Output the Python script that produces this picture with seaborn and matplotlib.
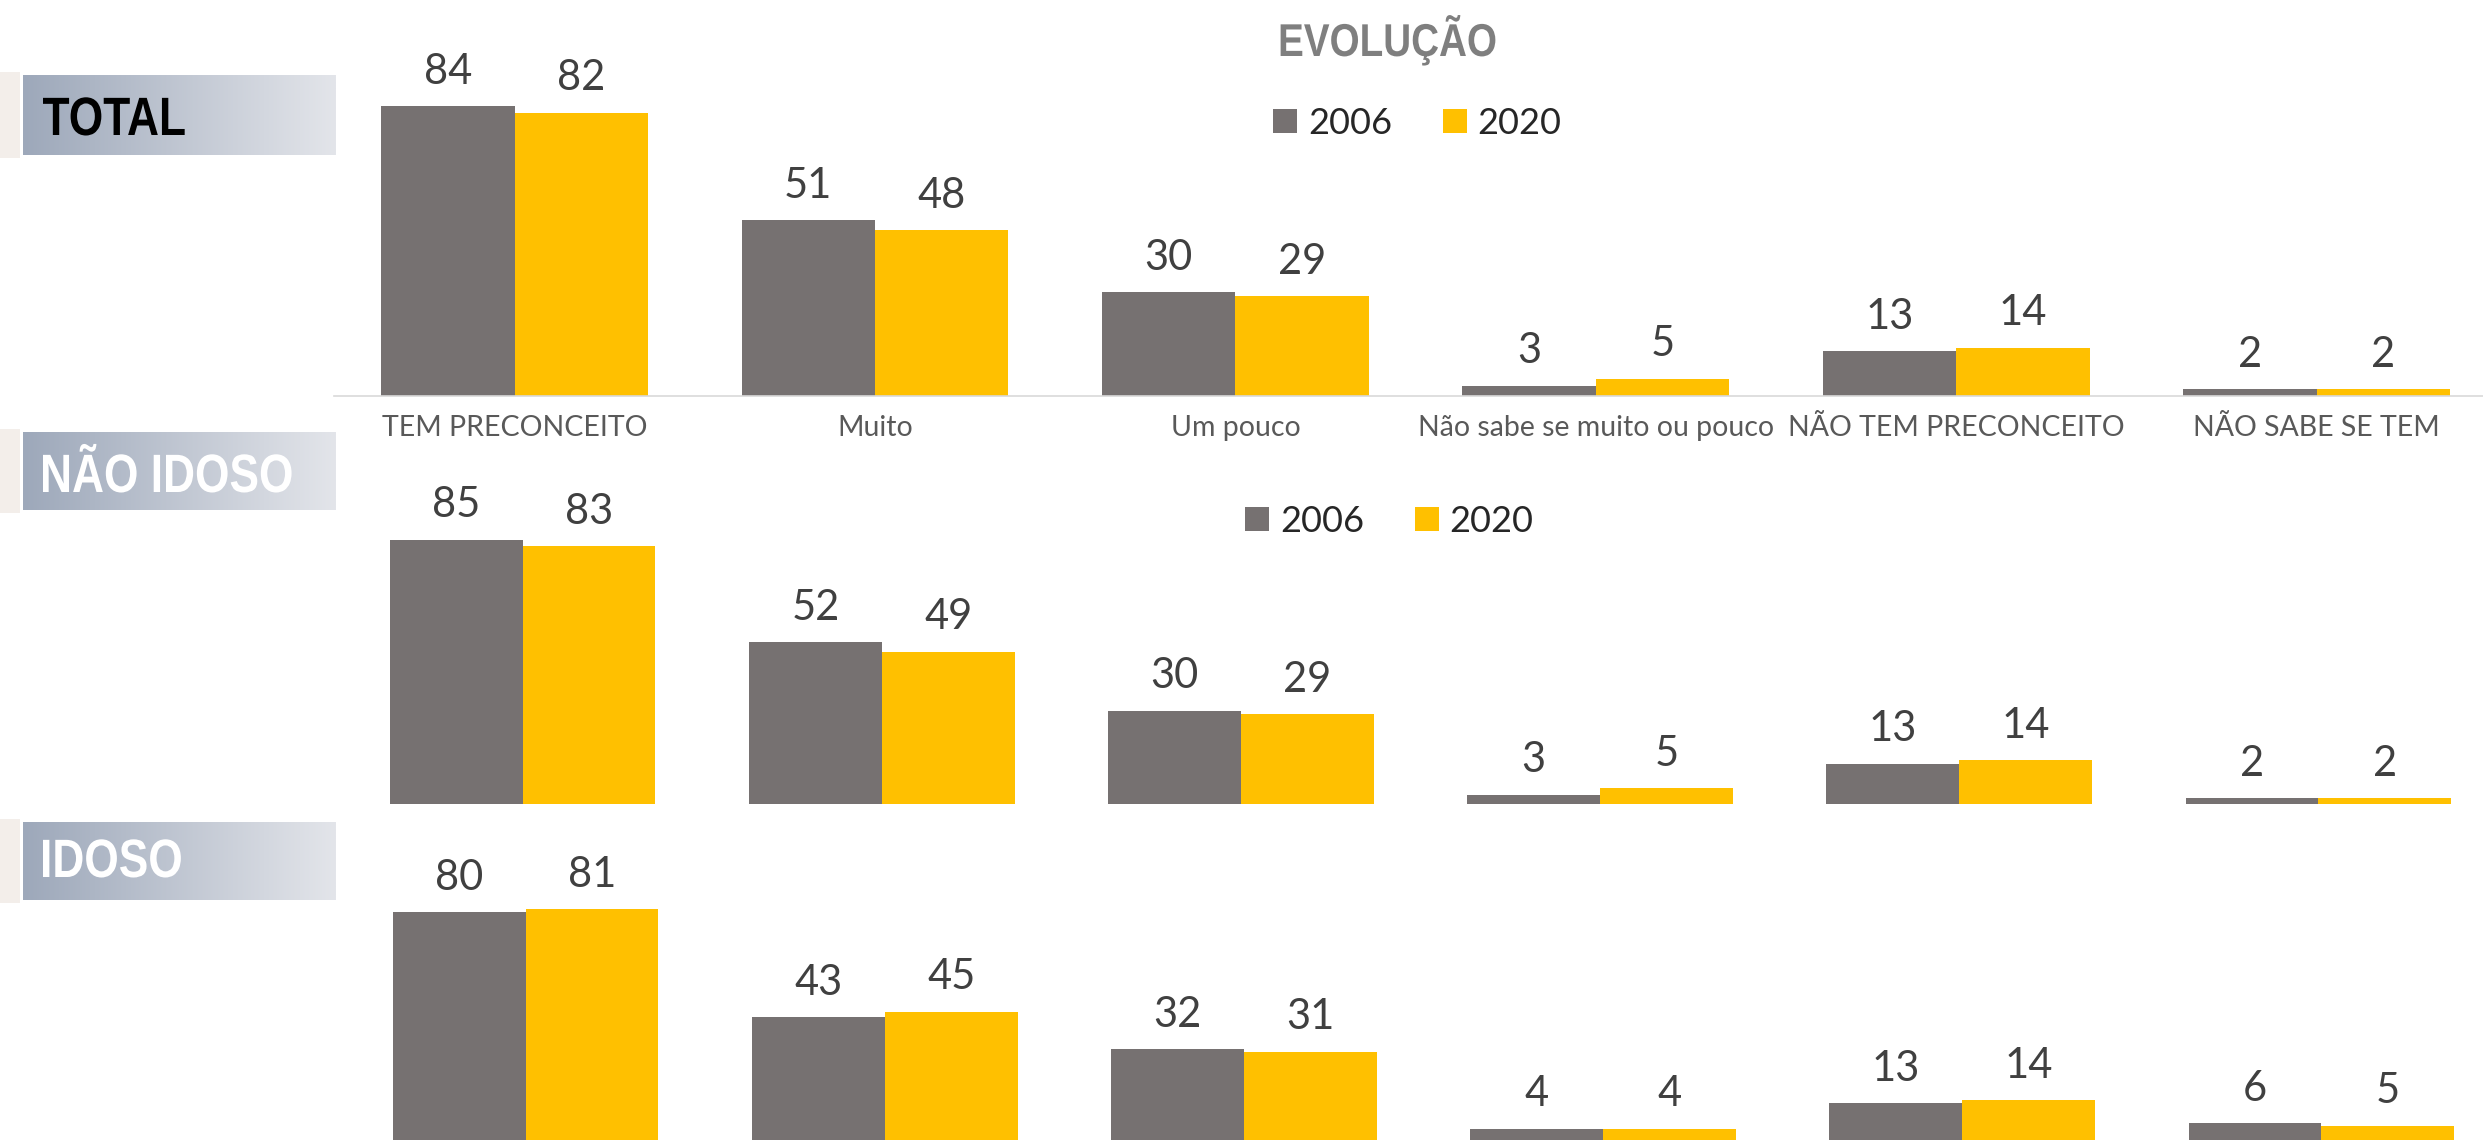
import numpy as np
import pandas as pd
import matplotlib
matplotlib.use("Agg")
import matplotlib.pyplot as plt
from matplotlib.font_manager import FontProperties
from matplotlib.textpath import TextPath
from matplotlib.patches import PathPatch
from matplotlib.transforms import Affine2D
from matplotlib.colors import LinearSegmentedColormap
import seaborn as sns

# data
categorias = ["TEM PRECONCEITO", "Muito", "Um pouco", "Não sabe se muito ou pouco",
              "NÃO TEM PRECONCEITO", "NÃO SABE SE TEM"]
anos = ["2006", "2020"]
total_2006 = [84, 51, 30, 3, 13, 2]
total_2020 = [82, 48, 29, 5, 14, 2]
nao_idoso_2006 = [85, 52, 30, 3, 13, 2]
nao_idoso_2020 = [83, 49, 29, 5, 14, 2]
idoso_2006 = [80, 43, 32, 4, 13, 6]
idoso_2020 = [81, 45, 31, 4, 14, 5]
grupos = ["TOTAL", "NÃO IDOSO", "IDOSO"]

CINZA = "#767171"
AMARELO = "#FFC000"

sns.set_style("white")
plt.rcParams["font.family"] = ["Lato", "DejaVu Sans"]

BOLD = FontProperties(family="Liberation Sans", weight="bold")


def narrow_text(ax, x, y, s, size, color, ha="left", squeeze=0.82):
    # condensed bold text drawn as a path (no narrow font installed)
    tp = TextPath((0, 0), s, size=size, prop=BOLD)
    ext = tp.get_extents()
    w = ext.width * squeeze
    x0 = x - w / 2 if ha == "center" else x
    tr = Affine2D().scale(squeeze, -1).translate(x0 - ext.x0 * squeeze, y)
    ax.add_patch(PathPatch(tr.transform_path(tp), fc=color, ec="none", lw=0, zorder=3))


def make_df(v2006, v2020):
    return pd.DataFrame({
        "categoria": categorias * 2,
        "ano": [anos[0]] * len(categorias) + [anos[1]] * len(categorias),
        "valor": list(v2006) + list(v2020),
    })


W, H = 2483, 1140
fig = plt.figure(figsize=(W / 100, H / 100), dpi=100)

# background layer in pixel coords for the group label boxes
bg = fig.add_axes([0, 0, 1, 1], zorder=-1)
bg.set_xlim(0, W)
bg.set_ylim(H, 0)
bg.axis("off")
grad = LinearSegmentedColormap.from_list("g", ["#9DA8BA", "#E3E5EA"])
boxes = [(75, 155, 135, "black"), (432, 510, 492, "white"), (822, 900, 877, "white")]
for (y0, y1, base, tc), nome in zip(boxes, grupos):
    bg.add_patch(plt.Rectangle((0, y0 - 3), 20, y1 - y0 + 6, color="#F3EEEA", lw=0))
    bg.imshow(np.linspace(0, 1, 256)[None, :], cmap=grad, aspect="auto",
              extent=(23, 336, y1, y0), zorder=1)
    narrow_text(bg, 43, base, nome, 54, tc)

narrow_text(bg, 1388, 56, "EVOLUÇÃO", 46, "#7F7F7F", ha="center", squeeze=0.84)

paineis = [
    (make_df(total_2006, total_2020), [334.4 / W, (H - 396) / H, 2162.4 / W, 345.5 / H], True, (1273, 123)),
    (make_df(nao_idoso_2006, nao_idoso_2020), [343 / W, (H - 804) / H, 2155 / W, 311 / H], False, (1245, 521)),
    (make_df(idoso_2006, idoso_2020), [346 / W, 0, 2155 / W, 285 / H], False, None),
]

for df, pos, show_axis, leg in paineis:
    ax = fig.add_axes(pos)
    ax.set_facecolor("none")
    sns.barplot(data=df, x="categoria", y="valor", hue="ano", hue_order=anos,
                palette=[CINZA, AMARELO], width=0.74, saturation=1, errorbar=None,
                ax=ax, linewidth=0)
    ax.set_xlim(-0.5, len(categorias) - 0.5)
    ax.set_ylim(0, 100)
    ax.set_xlabel("")
    ax.set_ylabel("")
    ax.set_yticks([])
    for c in ax.containers:
        ax.bar_label(c, fmt="%d", padding=11, fontsize=30, color="#404040")
    handles, labels = ax.get_legend_handles_labels()
    if ax.get_legend() is not None:
        ax.get_legend().remove()
    for s in ["top", "left", "right"]:
        ax.spines[s].set_visible(False)
    if show_axis:
        ax.spines["bottom"].set_color("#D9D9D9")
        ax.spines["bottom"].set_linewidth(1.2)
        ax.set_xticks(range(len(categorias)))
        ax.set_xticklabels(categorias, fontsize=20.5, color="#595959")
        ax.tick_params(axis="x", which="major", length=0, pad=14)
        ax.set_xticks(np.arange(-0.5, len(categorias)), minor=True)
        ax.tick_params(axis="x", which="minor", length=8, width=1.2, color="#D9D9D9")
    else:
        ax.spines["bottom"].set_visible(False)
        ax.set_xticks([])
    if leg is not None:
        lx, ly = leg
        ax.legend(handles, labels, loc="center left", bbox_to_anchor=(lx / W, 1 - ly / H),
                  bbox_transform=fig.transFigure, ncol=2, frameon=False, fontsize=26,
                  handlelength=0.67, handleheight=0.67, handletextpad=0.3,
                  columnspacing=1.4, borderpad=0, borderaxespad=0)

fig.savefig("out.png", dpi=100)
